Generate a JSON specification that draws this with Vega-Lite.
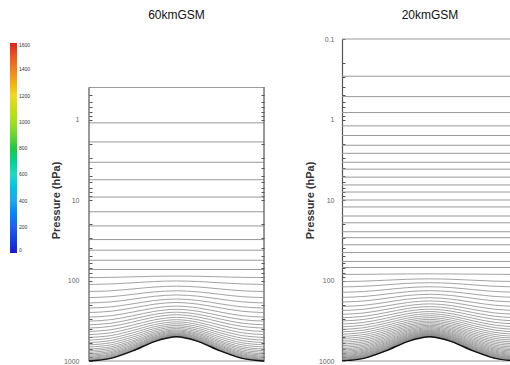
{
"$schema": "https://vega.github.io/schema/vega-lite/v6.json",
"padding": {"left": 10, "top": 9, "right": 0, "bottom": 0},
"spacing": 37,
"config": {
 "view": {"stroke": null},
 "font": "Liberation Sans",
 "axis": {"grid": false, "domainColor": "#555", "domainWidth": 1.2, "tickColor": "#555", "tickWidth": 1, "labelColor": "#666", "labelFontSize": 7, "titleFontSize": 11, "titleFontWeight": "bold", "titleColor": "#333", "labelFlush": false, "labelOverlap": false},
 "title": {"fontSize": 12, "fontWeight": "normal", "color": "#111", "offset": 18}
},
"datasets": {
 "xs": [{"key":"a","x":0},{"key":"b","x":0.125},{"key":"c","x":0.25},{"key":"d","x":0.375},{"key":"e","x":0.5},{"key":"f","x":0.625},{"key":"g","x":0.75},{"key":"h","x":0.875},{"key":"i","x":1}],
 "frame40": [{"x":0,"p1":0.4,"p2":1000},{"x":1,"p1":0.4,"p2":1000}],
 "l40flat": [{"p":0.4},{"p":1.1},{"p":1.9},{"p":3.4},{"p":5.6},{"p":9.2},{"p":14},{"p":21},{"p":31},{"p":42},{"p":56},{"p":73},{"p":1000}],
 "l40": [
  {"k":92,"a":92,"b":91.4,"c":90.0,"d":88.6,"e":88.1,"f":88.6,"g":90.0,"h":91.4,"i":92},
  {"k":112,"a":112,"b":110.4,"c":106.7,"d":102.9,"e":101.3,"f":102.9,"g":106.7,"h":110.4,"i":112},
  {"k":137,"a":137,"b":134.2,"c":127.3,"d":120.5,"e":117.6,"f":120.5,"g":127.3,"h":134.2,"i":137},
  {"k":163,"a":163,"b":158.8,"c":148.7,"d":138.5,"e":134.3,"f":138.5,"g":148.7,"h":158.8,"i":163},
  {"k":190,"a":190,"b":184.3,"c":170.6,"d":156.9,"e":151.3,"f":156.9,"g":170.6,"h":184.3,"i":190},
  {"k":220,"a":220,"b":212.6,"c":194.9,"d":177.1,"e":169.7,"f":177.1,"g":194.9,"h":212.6,"i":220},
  {"k":250,"a":250,"b":240.9,"c":218.9,"d":196.9,"e":187.7,"f":196.9,"g":218.9,"h":240.9,"i":250},
  {"k":285,"a":285,"b":273.8,"c":246.6,"d":219.5,"e":208.2,"f":219.5,"g":246.6,"h":273.8,"i":285},
  {"k":320,"a":320,"b":306.6,"c":274.1,"d":241.6,"e":228.1,"f":241.6,"g":274.1,"h":306.6,"i":320},
  {"k":355,"a":355,"b":339.3,"c":301.2,"d":263.2,"e":247.5,"f":263.2,"g":301.2,"h":339.3,"i":355},
  {"k":390,"a":390,"b":371.9,"c":328.1,"d":284.3,"e":266.2,"f":284.3,"g":328.1,"h":371.9,"i":390},
  {"k":430,"a":430,"b":409.1,"c":358.5,"d":307.9,"e":286.9,"f":307.9,"g":358.5,"h":409.1,"i":430},
  {"k":470,"a":470,"b":446.1,"c":388.4,"d":330.8,"e":306.9,"f":330.8,"g":388.4,"h":446.1,"i":470},
  {"k":510,"a":510,"b":483.1,"c":418.0,"d":353.0,"e":326.1,"f":353.0,"g":418.0,"h":483.1,"i":510},
  {"k":550,"a":550,"b":519.9,"c":447.3,"d":374.6,"e":344.5,"f":374.6,"g":447.3,"h":519.9,"i":550},
  {"k":590,"a":590,"b":556.7,"c":476.1,"d":395.6,"e":362.2,"f":395.6,"g":476.1,"h":556.7,"i":590},
  {"k":630,"a":630,"b":593.3,"c":504.6,"d":415.9,"e":379.2,"f":415.9,"g":504.6,"h":593.3,"i":630},
  {"k":670,"a":670,"b":629.8,"c":532.7,"d":435.6,"e":395.4,"f":435.6,"g":532.7,"h":629.8,"i":670},
  {"k":710,"a":710,"b":666.2,"c":560.4,"d":454.6,"e":410.8,"f":454.6,"g":560.4,"h":666.2,"i":710},
  {"k":745,"a":745,"b":698.0,"c":584.3,"d":470.7,"e":423.7,"f":470.7,"g":584.3,"h":698.0,"i":745},
  {"k":780,"a":780,"b":729.6,"c":608.0,"d":486.3,"e":436.0,"f":486.3,"g":608.0,"h":729.6,"i":780},
  {"k":815,"a":815,"b":761.2,"c":631.3,"d":501.5,"e":447.7,"f":501.5,"g":631.3,"h":761.2,"i":815},
  {"k":845,"a":845,"b":788.2,"c":651.1,"d":514.0,"e":457.3,"f":514.0,"g":651.1,"h":788.2,"i":845},
  {"k":875,"a":875,"b":815.2,"c":670.7,"d":526.2,"e":466.4,"f":526.2,"g":670.7,"h":815.2,"i":875},
  {"k":900,"a":900,"b":837.6,"c":686.9,"d":536.1,"e":473.7,"f":536.1,"g":686.9,"h":837.6,"i":900},
  {"k":925,"a":925,"b":860.0,"c":702.9,"d":545.8,"e":480.7,"f":545.8,"g":702.9,"h":860.0,"i":925},
  {"k":947,"a":947,"b":879.6,"c":716.8,"d":554.1,"e":486.7,"f":554.1,"g":716.8,"h":879.6,"i":947},
  {"k":965,"a":965,"b":895.7,"c":728.2,"d":560.7,"e":491.3,"f":560.7,"g":728.2,"h":895.7,"i":965},
  {"k":980,"a":980,"b":909.0,"c":737.6,"d":566.1,"e":495.1,"f":566.1,"g":737.6,"h":909.0,"i":980},
  {"k":992,"a":992,"b":919.7,"c":745.0,"d":570.4,"e":498.1,"f":570.4,"g":745.0,"h":919.7,"i":992}
 ],
 "l60flat": [{"p":0.1},{"p":0.29},{"p":0.52},{"p":0.82},{"p":1.2},{"p":1.58},{"p":2.09},{"p":2.63},{"p":3.4},{"p":4.14},{"p":5.2},{"p":6.5},{"p":7.96},{"p":10},{"p":12.2},{"p":15.8},{"p":19.2},{"p":24.8},{"p":29.4},{"p":36},{"p":45},{"p":58},{"p":69},{"p":1000}],
 "l60": [
  {"k":84,"a":84,"b":83.8,"c":83.3,"d":82.9,"e":82.7,"f":82.9,"g":83.3,"h":83.8,"i":84},
  {"k":103,"a":103,"b":101.9,"c":99.2,"d":96.5,"e":95.4,"f":96.5,"g":99.2,"h":101.9,"i":103},
  {"k":120,"a":120,"b":118.0,"c":113.3,"d":108.5,"e":106.6,"f":108.5,"g":113.3,"h":118.0,"i":120},
  {"k":140,"a":140,"b":137.0,"c":129.8,"d":122.6,"e":119.6,"f":122.6,"g":129.8,"h":137.0,"i":140},
  {"k":162,"a":162,"b":157.9,"c":147.8,"d":137.8,"e":133.7,"f":137.8,"g":147.8,"h":157.9,"i":162},
  {"k":185,"a":185,"b":179.6,"c":166.6,"d":153.5,"e":148.2,"f":153.5,"g":166.6,"h":179.6,"i":185},
  {"k":210,"a":210,"b":203.2,"c":186.8,"d":170.4,"e":163.6,"f":170.4,"g":186.8,"h":203.2,"i":210},
  {"k":236,"a":236,"b":227.7,"c":207.7,"d":187.7,"e":179.4,"f":187.7,"g":207.7,"h":227.7,"i":236},
  {"k":263,"a":263,"b":253.1,"c":229.2,"d":205.3,"e":195.4,"f":205.3,"g":229.2,"h":253.1,"i":263},
  {"k":290,"a":290,"b":278.5,"c":250.6,"d":222.7,"e":211.1,"f":222.7,"g":250.6,"h":278.5,"i":290},
  {"k":318,"a":318,"b":304.7,"c":272.5,"d":240.3,"e":227.0,"f":240.3,"g":272.5,"h":304.7,"i":318},
  {"k":347,"a":347,"b":331.8,"c":295.0,"d":258.3,"e":243.1,"f":258.3,"g":295.0,"h":331.8,"i":347},
  {"k":376,"a":376,"b":358.8,"c":317.4,"d":275.9,"e":258.8,"f":275.9,"g":317.4,"h":358.8,"i":376},
  {"k":405,"a":405,"b":385.8,"c":339.5,"d":293.2,"e":274.1,"f":293.2,"g":339.5,"h":385.8,"i":405},
  {"k":435,"a":435,"b":413.7,"c":362.2,"d":310.8,"e":289.5,"f":310.8,"g":362.2,"h":413.7,"i":435},
  {"k":465,"a":465,"b":441.5,"c":384.7,"d":328.0,"e":304.4,"f":328.0,"g":384.7,"h":441.5,"i":465},
  {"k":495,"a":495,"b":469.2,"c":407.0,"d":344.7,"e":319.0,"f":344.7,"g":407.0,"h":469.2,"i":495},
  {"k":525,"a":525,"b":496.9,"c":429.1,"d":361.2,"e":333.1,"f":361.2,"g":429.1,"h":496.9,"i":525},
  {"k":555,"a":555,"b":524.5,"c":450.9,"d":377.3,"e":346.8,"f":377.3,"g":450.9,"h":524.5,"i":555},
  {"k":585,"a":585,"b":552.1,"c":472.5,"d":393.0,"e":360.1,"f":393.0,"g":472.5,"h":552.1,"i":585},
  {"k":615,"a":615,"b":579.6,"c":494.0,"d":408.4,"e":372.9,"f":408.4,"g":494.0,"h":579.6,"i":615},
  {"k":645,"a":645,"b":607.0,"c":515.2,"d":423.4,"e":385.3,"f":423.4,"g":515.2,"h":607.0,"i":645},
  {"k":675,"a":675,"b":634.4,"c":536.2,"d":438.0,"e":397.3,"f":438.0,"g":536.2,"h":634.4,"i":675},
  {"k":704,"a":704,"b":660.7,"c":556.3,"d":451.8,"e":408.5,"f":451.8,"g":556.3,"h":660.7,"i":704},
  {"k":732,"a":732,"b":686.2,"c":575.5,"d":464.8,"e":418.9,"f":464.8,"g":575.5,"h":686.2,"i":732},
  {"k":759,"a":759,"b":710.6,"c":593.8,"d":477.0,"e":428.7,"f":477.0,"g":593.8,"h":710.6,"i":759},
  {"k":785,"a":785,"b":734.2,"c":611.3,"d":488.5,"e":437.7,"f":488.5,"g":611.3,"h":734.2,"i":785},
  {"k":810,"a":810,"b":756.7,"c":628.0,"d":499.3,"e":446.0,"f":499.3,"g":628.0,"h":756.7,"i":810},
  {"k":834,"a":834,"b":778.3,"c":643.9,"d":509.5,"e":453.8,"f":509.5,"g":643.9,"h":778.3,"i":834},
  {"k":857,"a":857,"b":799.0,"c":659.0,"d":519.0,"e":461.0,"f":519.0,"g":659.0,"h":799.0,"i":857},
  {"k":878,"a":878,"b":817.9,"c":672.7,"d":527.4,"e":467.3,"f":527.4,"g":672.7,"h":817.9,"i":878},
  {"k":898,"a":898,"b":835.8,"c":685.6,"d":535.4,"e":473.2,"f":535.4,"g":685.6,"h":835.8,"i":898},
  {"k":916,"a":916,"b":851.9,"c":697.1,"d":542.3,"e":478.2,"f":542.3,"g":697.1,"h":851.9,"i":916},
  {"k":933,"a":933,"b":867.1,"c":708.0,"d":548.8,"e":482.9,"f":548.8,"g":708.0,"h":867.1,"i":933},
  {"k":948,"a":948,"b":880.5,"c":717.5,"d":554.4,"e":486.9,"f":554.4,"g":717.5,"h":880.5,"i":948},
  {"k":961,"a":961,"b":892.1,"c":725.7,"d":559.2,"e":490.3,"f":559.2,"g":725.7,"h":892.1,"i":961},
  {"k":973,"a":973,"b":902.8,"c":733.2,"d":563.6,"e":493.4,"f":563.6,"g":733.2,"h":902.8,"i":973},
  {"k":983,"a":983,"b":911.7,"c":739.4,"d":567.2,"e":495.9,"f":567.2,"g":739.4,"h":911.7,"i":983},
  {"k":991,"a":991,"b":918.8,"c":744.4,"d":570.0,"e":497.8,"f":570.0,"g":744.4,"h":918.8,"i":991},
  {"k":997,"a":997,"b":924.1,"c":748.1,"d":572.2,"e":499.3,"f":572.2,"g":748.1,"h":924.1,"i":997}
 ],
 "sfc": [{"k":"sfc","a":1000,"b":926.8,"c":750,"d":573.2,"e":500,"f":573.2,"g":750,"h":926.8,"i":1000}],
 "cbar": [{"h":0,"p":1000},{"h":1600,"p":1000}]
},
"hconcat": [
 {
  "width": 175, "height": 322,
  "title": {"text": "60kmGSM", "anchor": "middle", "offset": 17},
  "layer": [
   {"data": {"name": "l40flat"}, "mark": {"type": "rule", "stroke": "#999", "strokeWidth": 1},
    "encoding": {
      "x": {"datum": 0, "type": "quantitative", "scale": {"domain": [0, 1], "nice": false}, "axis": null},
      "x2": {"datum": 1},
      "y": {"field": "p", "type": "quantitative",
      "scale": {"type": "log", "domain": [0.1, 1000], "reverse": true},
      "axis": {"orient": "left", "domain": false, "values": [0.4,0.5,0.6,0.7,0.8,0.9,1,2,3,4,5,6,7,8,9,10,20,30,40,50,60,70,80,90,100,200,300,400,500,600,700,800,900,1000], "format": "~g", "labelExpr": "(datum.value==1||datum.value==10||datum.value==100||datum.value==1000)?datum.label:''", "title": "Pressure (hPa)", "tickSize": -3, "labelPadding": 13, "titlePadding": 2}}}},
   {"data": {"name": "frame40"}, "mark": {"type": "rule", "stroke": "#555", "strokeWidth": 1.2},
    "encoding": {"x": {"field": "x", "type": "quantitative", "scale": {"domain": [0, 1], "nice": false}, "axis": null},
      "y": {"field": "p1", "type": "quantitative", "scale": {"type": "log", "domain": [0.1, 1000], "reverse": true}, "axis": null},
      "y2": {"field": "p2"}}},
   {"data": {"name": "l40"}, "transform": [{"fold": ["a","b","c","d","e","f","g","h","i"]}, {"lookup": "key", "from": {"data": {"name": "xs"}, "key": "key", "fields": ["x"]}}],
    "mark": {"type": "line", "interpolate": "monotone", "stroke": "#8c8c8c", "strokeWidth": 0.8},
    "encoding": {"x": {"field": "x", "type": "quantitative", "scale": {"domain": [0, 1], "nice": false}, "axis": null},
      "y": {"field": "value", "type": "quantitative", "scale": {"type": "log", "domain": [0.1, 1000], "reverse": true}, "axis": null},
      "detail": {"field": "k"}}},
   {"data": {"name": "sfc"}, "transform": [{"fold": ["a","b","c","d","e","f","g","h","i"]}, {"lookup": "key", "from": {"data": {"name": "xs"}, "key": "key", "fields": ["x"]}}],
    "mark": {"type": "line", "interpolate": "monotone", "stroke": "#111", "strokeWidth": 1.4},
    "encoding": {"x": {"field": "x", "type": "quantitative", "scale": {"domain": [0, 1], "nice": false}, "axis": null},
      "y": {"field": "value", "type": "quantitative", "scale": {"type": "log", "domain": [0.1, 1000], "reverse": true}, "axis": null}}},
   {"data": {"name": "cbar"}, "mark": {"type": "point", "opacity": 0},
    "encoding": {
      "x": {"datum": 0.5, "type": "quantitative", "scale": {"domain": [0, 1], "nice": false}, "axis": null},
      "y": {"field": "p", "type": "quantitative", "scale": {"type": "log", "domain": [0.1, 1000], "reverse": true},
        "axis": {"orient": "right", "domain": false, "values": [0.4,0.5,0.6,0.7,0.8,0.9,1,2,3,4,5,6,7,8,9,10,20,30,40,50,60,70,80,90,100,200,300,400,500,600,700,800,900,1000], "labels": false, "title": null, "tickSize": -3}},
      "color": {"field": "h", "type": "quantitative",
        "scale": {"domain": [0,200,400,600,800,1000,1200,1400,1600], "range": ["#1a1ad0","#2060f0","#20a8f0","#20d8c8","#20c840","#a0e020","#f0d820","#f08020","#e02020"]},
        "legend": {"orient": "none", "legendX": -79, "legendY": 4, "direction": "vertical", "gradientLength": 210, "gradientThickness": 7, "values": [0,200,400,600,800,1000,1200,1400,1600], "format": "d", "labelFontSize": 5, "labelOffset": 2, "title": null, "labelColor": "#333", "gradientStrokeWidth": 0}}}}
  ],
  "resolve": {"axis": {"y": "independent"}}
 },
 {
  "width": 168, "height": 322,
  "title": {"text": "20kmGSM", "anchor": "middle", "dx": 4, "offset": 13},
  "layer": [
   {"data": {"name": "l60flat"}, "mark": {"type": "rule", "stroke": "#999", "strokeWidth": 1},
    "encoding": {
      "x": {"datum": 0, "type": "quantitative", "scale": {"domain": [0, 0.96], "nice": false}, "axis": null},
      "x2": {"datum": 0.96},
      "y": {"field": "p", "type": "quantitative",
      "scale": {"type": "log", "domain": [0.1, 1000], "reverse": true},
      "axis": {"orient": "left", "values": [0.1,0.2,0.3,0.4,0.5,0.6,0.7,0.8,0.9,1,2,3,4,5,6,7,8,9,10,20,30,40,50,60,70,80,90,100,200,300,400,500,600,700,800,900,1000], "format": "~g", "labelExpr": "(datum.value==0.1||datum.value==1||datum.value==10||datum.value==100||datum.value==1000)?datum.label:''", "title": "Pressure (hPa)", "tickSize": -3, "labelPadding": 11, "titlePadding": 3}}}},
   {"data": {"name": "l60"}, "transform": [{"fold": ["a","b","c","d","e","f","g","h","i"]}, {"lookup": "key", "from": {"data": {"name": "xs"}, "key": "key", "fields": ["x"]}}],
    "mark": {"type": "line", "interpolate": "monotone", "stroke": "#8c8c8c", "strokeWidth": 0.8, "clip": true},
    "encoding": {"x": {"field": "x", "type": "quantitative", "scale": {"domain": [0, 0.96], "nice": false}, "axis": null},
      "y": {"field": "value", "type": "quantitative", "scale": {"type": "log", "domain": [0.1, 1000], "reverse": true}},
      "detail": {"field": "k"}}},
   {"data": {"name": "sfc"}, "transform": [{"fold": ["a","b","c","d","e","f","g","h","i"]}, {"lookup": "key", "from": {"data": {"name": "xs"}, "key": "key", "fields": ["x"]}}],
    "mark": {"type": "line", "interpolate": "monotone", "stroke": "#111", "strokeWidth": 1.4, "clip": true},
    "encoding": {"x": {"field": "x", "type": "quantitative", "scale": {"domain": [0, 0.96], "nice": false}, "axis": null},
      "y": {"field": "value", "type": "quantitative", "scale": {"type": "log", "domain": [0.1, 1000], "reverse": true}}}}
  ]
 }
]
}
